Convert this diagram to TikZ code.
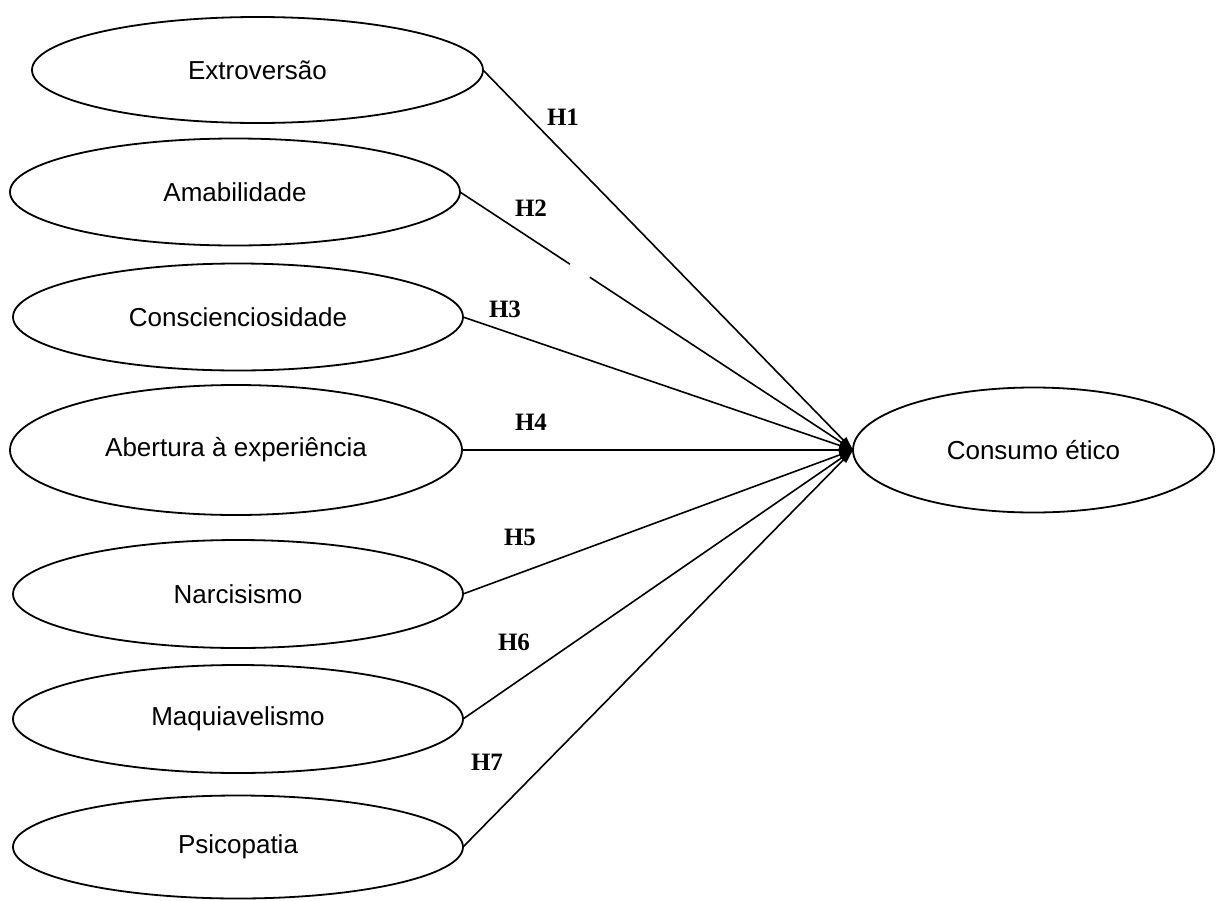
\documentclass[tikz,border=0pt]{standalone}
\usepackage{fontspec}
\setmainfont{Liberation Serif}
\newfontfamily\arialf{Liberation Sans}
\usetikzlibrary{shapes.geometric,arrows.meta,calc}
\begin{document}
\begin{tikzpicture}[x=1pt,y=-1pt,
  construct/.style={ellipse,draw,line width=1.8pt,inner sep=0pt,outer sep=0pt,
    font=\arialf\fontsize{26}{30}\selectfont},
  path/.style={line width=1.6pt,-{Triangle[length=14pt,width=8pt]}},
  hyp/.style={font=\bfseries\fontsize{25}{28}\selectfont}]
\useasboundingbox (0,0) rectangle (1216,900);
\node[construct,minimum width=451pt,minimum height=106pt] (e1) at (257.5,70) {Extroversão};
\node[construct,minimum width=450pt,minimum height=107pt] (e2) at (235,192) {Amabilidade};
\node[construct,minimum width=450pt,minimum height=107pt] (e3) at (238,317) {Conscienciosidade};
\node[construct,minimum width=452pt,minimum height=130pt] (e4) at (236,450) {Abertura à experiência};
\node[construct,minimum width=450pt,minimum height=108pt] (e5) at (238,594) {Narcisismo};
\node[construct,minimum width=450pt,minimum height=108pt] (e6) at (238,719) {Maquiavelismo};
\node[construct,minimum width=450pt,minimum height=103pt] (e7) at (238,847) {Psicopatia};
\node[construct,minimum width=361pt,minimum height=125pt] (c) at (1033.5,450) {Consumo ético};
\foreach \i in {1,...,7} {\draw[path] (e\i.east) -- (c.west);}
\draw[white,line width=4pt] ($(e2.east)!0.28!(c.west)$) -- ($(e2.east)!0.33!(c.west)$);
\node[hyp] (h1) at (563,117) {H1};
\node[hyp] (h2) at (531,208) {H2};
\node[hyp] (h3) at (505,309) {H3};
\node[hyp] (h4) at (531,422) {H4};
\node[hyp] (h5) at (520,537) {H5};
\node[hyp] (h6) at (514,642) {H6};
\node[hyp] (h7) at (487,762) {H7};
\end{tikzpicture}
\end{document}
